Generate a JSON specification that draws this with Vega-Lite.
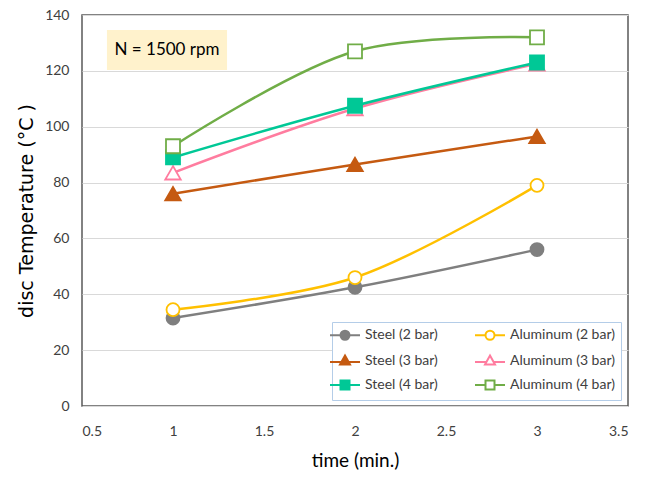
{
  "$schema": "https://vega.github.io/schema/vega-lite/v6.json",
  "width": 546,
  "height": 391,
  "autosize": {"type": "none"},
  "padding": {"left": 82, "top": 15, "right": 21, "bottom": 72},
  "background": "white",
  "config": {
    "view": {"stroke": "#595959", "strokeWidth": 1.5},
    "axis": {
      "labelFont": "Lato",
      "labelFontSize": 14,
      "labelColor": "#404040",
      "ticks": false,
      "domain": false,
      "gridColor": "#d9d9d9",
      "gridWidth": 1.2,
      "titleFontWeight": "normal",
      "titleColor": "#000000"
    },
    "legend": {
      "title": null,
      "orient": "none",
      "legendX": 250,
      "legendY": 307,
      "direction": "horizontal",
      "columns": 2,
      "columnPadding": 33,
      "rowPadding": 7.5,
      "padding": 6,
      "fillColor": "white",
      "strokeColor": "#b4cde8",
      "labelFont": "Lato",
      "labelFontSize": 14,
      "labelColor": "#404040",
      "symbolSize": 100,
      "symbolStrokeWidth": 2,
      "symbolOpacity": 1,
      "labelOffset": 13
    }
  },
  "datasets": {
    "series": [
      {"time": 1, "temp": 31.5, "series": "Steel (2 bar)"},
      {"time": 2, "temp": 42.5, "series": "Steel (2 bar)"},
      {"time": 3, "temp": 56, "series": "Steel (2 bar)"},
      {"time": 1, "temp": 34.5, "series": "Aluminum (2 bar)"},
      {"time": 2, "temp": 46, "series": "Aluminum (2 bar)"},
      {"time": 3, "temp": 79, "series": "Aluminum (2 bar)"},
      {"time": 1, "temp": 76, "series": "Steel (3 bar)"},
      {"time": 2, "temp": 86.5, "series": "Steel (3 bar)"},
      {"time": 3, "temp": 96.5, "series": "Steel (3 bar)"},
      {"time": 1, "temp": 83.5, "series": "Aluminum (3 bar)"},
      {"time": 2, "temp": 106.5, "series": "Aluminum (3 bar)"},
      {"time": 3, "temp": 122.5, "series": "Aluminum (3 bar)"},
      {"time": 1, "temp": 89, "series": "Steel (4 bar)"},
      {"time": 2, "temp": 107.5, "series": "Steel (4 bar)"},
      {"time": 3, "temp": 123, "series": "Steel (4 bar)"},
      {"time": 1, "temp": 93, "series": "Aluminum (4 bar)"},
      {"time": 2, "temp": 127, "series": "Aluminum (4 bar)"},
      {"time": 3, "temp": 132, "series": "Aluminum (4 bar)"}
    ],
    "note": [
      {"label": "N = 1500 rpm"}
    ]
  },
  "layer": [
    {
      "data": {"name": "note"},
      "mark": {"type": "rect", "fill": "#fff2cc"},
      "encoding": {
        "x": {"datum": 0.637, "type": "quantitative"},
        "x2": {"datum": 1.297},
        "y": {"datum": 134.6, "type": "quantitative"},
        "y2": {"datum": 120.3}
      }
    },
    {
      "data": {"name": "note"},
      "mark": {"type": "text", "font": "Lato", "fontSize": 17, "color": "#000000", "align": "center", "baseline": "middle"},
      "encoding": {
        "x": {"datum": 0.967, "type": "quantitative"},
        "y": {"datum": 127.4, "type": "quantitative"},
        "text": {"field": "label"}
      }
    },
    {
      "data": {"name": "series"},
      "mark": {"type": "line", "interpolate": "catmull-rom", "strokeWidth": 2.5},
      "encoding": {
        "x": {
          "field": "time",
          "type": "quantitative",
          "scale": {"domain": [0.5, 3.5], "nice": false, "zero": false},
          "axis": {
            "values": [0.5, 1, 1.5, 2, 2.5, 3, 3.5],
            "format": "~g",
            "grid": false,
            "labelPadding": 18,
            "title": "time (min.)",
            "titleFont": "Lato",
            "titleFontSize": 19,
            "titlePadding": 13
          }
        },
        "y": {
          "field": "temp",
          "type": "quantitative",
          "scale": {"domain": [0, 140], "nice": false},
          "axis": {
            "values": [0, 20, 40, 60, 80, 100, 120, 140],
            "grid": true,
            "labelPadding": 13,
            "title": "disc Temperature (°C )",
            "titleFont": "DejaVu Sans",
            "titleFontSize": 19,
            "titlePadding": 8
          }
        },
        "stroke": {
          "field": "series",
          "type": "nominal",
          "scale": {
            "domain": ["Steel (2 bar)", "Aluminum (2 bar)", "Steel (3 bar)", "Aluminum (3 bar)", "Steel (4 bar)", "Aluminum (4 bar)"],
            "range": ["#7f7f7f", "#ffc000", "#c55a11", "#ff7c9f", "#00c896", "#70ad47"]
          }
        },
        "detail": {"field": "series", "type": "nominal"}
      }
    },
    {
      "data": {"name": "series"},
      "transform": [{"filter": {"field": "series", "oneOf": ["Steel (2 bar)", "Aluminum (2 bar)"]}}],
      "mark": {"type": "point", "shape": "circle", "filled": true, "strokeWidth": 1.8, "opacity": 1, "size": 169},
      "encoding": {
        "x": {"field": "time", "type": "quantitative"},
        "y": {"field": "temp", "type": "quantitative"},
        "stroke": {"field": "series", "type": "nominal"},
        "fill": {
          "field": "series",
          "type": "nominal",
          "scale": {
            "domain": ["Steel (2 bar)", "Aluminum (2 bar)", "Steel (3 bar)", "Aluminum (3 bar)", "Steel (4 bar)", "Aluminum (4 bar)"],
            "range": ["#7f7f7f", "#ffffff", "#c55a11", "#ffffff", "#00c896", "#ffffff"]
          }
        }
      }
    },
    {
      "data": {"name": "series"},
      "transform": [{"filter": {"field": "series", "oneOf": ["Steel (3 bar)", "Aluminum (3 bar)"]}}],
      "mark": {"type": "point", "shape": "triangle-up", "filled": true, "strokeWidth": 1.8, "opacity": 1, "size": 240},
      "encoding": {
        "x": {"field": "time", "type": "quantitative"},
        "y": {"field": "temp", "type": "quantitative"},
        "stroke": {"field": "series", "type": "nominal"},
        "fill": {"field": "series", "type": "nominal"}
      }
    },
    {
      "data": {"name": "series"},
      "transform": [{"filter": {"field": "series", "oneOf": ["Steel (4 bar)", "Aluminum (4 bar)"]}}],
      "mark": {"type": "point", "shape": "square", "filled": true, "strokeWidth": 1.8, "opacity": 1, "size": 196},
      "encoding": {
        "x": {"field": "time", "type": "quantitative"},
        "y": {"field": "temp", "type": "quantitative"},
        "stroke": {"field": "series", "type": "nominal"},
        "fill": {"field": "series", "type": "nominal"}
      }
    },
    {
      "data": {"name": "series"},
      "mark": {"type": "point", "filled": true, "opacity": 0},
      "encoding": {
        "x": {"field": "time", "type": "quantitative"},
        "y": {"field": "temp", "type": "quantitative"},
        "stroke": {"field": "series", "type": "nominal"},
        "fill": {"field": "series", "type": "nominal"},
        "shape": {
          "field": "series",
          "type": "nominal",
          "scale": {
            "domain": ["Steel (2 bar)", "Aluminum (2 bar)", "Steel (3 bar)", "Aluminum (3 bar)", "Steel (4 bar)", "Aluminum (4 bar)"],
            "range": [
              "M-3,0H-0.9M0.9,0H3M0.9,0A0.9,0.9 0 1,1 -0.9,0A0.9,0.9 0 1,1 0.9,0Z",
              "M-3,0H-0.9M0.9,0H3M0.9,0A0.9,0.9 0 1,1 -0.9,0A0.9,0.9 0 1,1 0.9,0Z",
              "M-3,0.3H-0.72M0.72,0.3H3M0,-1L1,0.8L-1,0.8Z",
              "M-3,0.3H-0.72M0.72,0.3H3M0,-1L1,0.8L-1,0.8Z",
              "M-3,0H-0.9M0.9,0H3M-0.9,-0.9H0.9V0.9H-0.9Z",
              "M-3,0H-0.9M0.9,0H3M-0.9,-0.9H0.9V0.9H-0.9Z"
            ]
          }
        }
      }
    }
  ]
}
